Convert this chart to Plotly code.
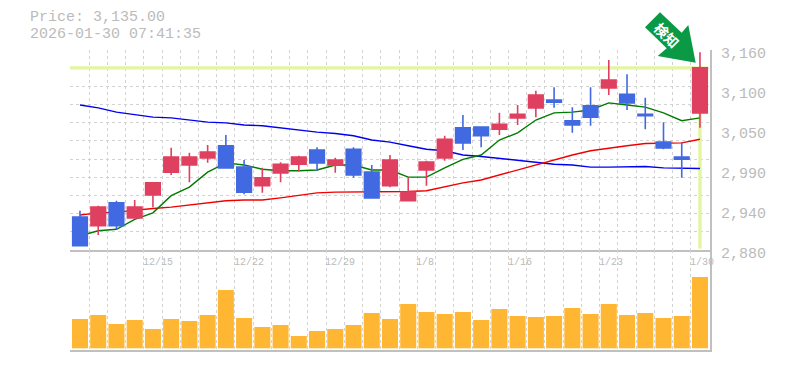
import plotly.graph_objects as go

dates_idx = [4, 9, 14, 19, 24, 29, 34]
date_labels = ["12/15", "12/22", "12/29", "1/8", "1/16", "1/23", "1/30"]

opens  = [2926,2914,2946,2925,2957,2989,2999,3009,3026,2996,2970,2988,3000,3020,2999,3021,2989,2970,2949,2992,3009,3051,3052,3049,3065,3079,3090,3061,3082,3107,3098,3070,3031,3010,3072]
highs  = [2935,2942,2949,2950,2975,3023,3016,3027,3041,3006,2995,3003,3012,3024,3009,3024,2999,3013,2981,3005,3040,3069,3052,3072,3083,3103,3108,3080,3108,3146,3126,3093,3059,3031,3157]
lows   = [2885,2901,2909,2925,2940,2985,2975,3002,2995,2958,2960,2975,2990,2991,2988,2981,2953,2968,2949,2970,3005,3020,3024,3041,3055,3066,3079,3044,3054,3097,3076,3049,3021,2981,3051]
closes = [2886,2940,2914,2940,2974,3010,3010,3017,2995,2961,2981,3000,3010,3002,3006,2985,2953,3006,2961,3003,3035,3030,3040,3056,3070,3097,3087,3055,3066,3118,3086,3068,3023,3007,3135]
ma_green = [2900,2907,2909,2923,2932,2956,2968,2989,3002,2999,2993,2991,2991,2992,2999,2999,2992,2992,2982,2982,2995,3007,3013,3034,3044,3062,3072,3073,3076,3086,3083,3080,3072,3061,3065]
ma_red   = [2929,2932,2933,2936,2938,2940,2943,2945,2949,2950,2950,2953,2956,2960,2961,2961,2961,2962,2962,2963,2969,2974,2978,2985,2992,3000,3006,3013,3019,3023,3026,3029,3029,3030,3035]
ma_blue  = [3083,3079,3073,3069,3066,3065,3062,3059,3058,3055,3054,3051,3047,3045,3043,3040,3034,3031,3026,3021,3019,3013,3011,3008,3005,3003,3000,2999,2996,2996,2997,2997,2995,2994,2994]
volumes  = [293,333,243,283,193,293,273,333,583,303,213,233,123,173,193,233,353,293,443,363,343,363,283,393,323,313,323,403,343,443,333,353,303,323,713]
price_ticks = [3160,3104,3048,2992,2936,2880]
price_labels = ["3,160","3,100","3,050","2,990","2,940","2,880"]
last_price = 3135

n = len(closes)
xs = list(range(n))
GRID = "#d2d2d2"
AX = "#c0c0c0"
TXT = "#bbbbbb"
MONO = "Liberation Mono"
DASH = "3px,3px"
PMIN, PMAX = 2880, 3160
XR = [-0.548, 34.55]

W, H = 785, 370
L, R, T, B = 70, 75, 50, 20
pw, ph = W - L - R, H - T - B
def px(x): return (x - L) / pw
def py(y): return 1 - (y - T) / ph

fig = go.Figure()
fig.add_trace(go.Scatter(x=[XR[0], XR[1] - 0.1, None, n - 1, n - 1], y=[last_price, last_price, None, last_price, PMIN + 2],
                         mode="lines", line=dict(color="#e2f5a0", width=3.4), hoverinfo="skip", showlegend=False))
fig.add_trace(go.Scatter(x=xs, y=ma_blue, mode="lines", line=dict(color="#0000f0", width=1.4), showlegend=False))
fig.add_trace(go.Scatter(x=xs, y=ma_red, mode="lines", line=dict(color="#f00000", width=1.4), showlegend=False))
fig.add_trace(go.Scatter(x=xs, y=ma_green, mode="lines", line=dict(color="#007a00", width=1.4), showlegend=False))
fig.add_trace(go.Candlestick(x=xs, open=opens, high=highs, low=lows, close=closes, whiskerwidth=0,
                             xaxis="x3", yaxis="y3",
                             increasing=dict(line=dict(color="#e0405f", width=1.6), fillcolor="#e0405f"),
                             decreasing=dict(line=dict(color="#4169e1", width=1.6), fillcolor="#4169e1"),
                             showlegend=False))
fig.add_trace(go.Bar(x=xs, y=volumes, width=0.88, marker=dict(color="#ffb733", line=dict(width=0)),
                     xaxis="x2", yaxis="y2", showlegend=False))

annotations = []
for txt, yy in (("Price: 3,135.00", 18), ("2026-01-30 07:41:35", 35)):
    annotations.append(dict(text=txt, x=px(28), y=py(yy), xref="paper", yref="paper", xanchor="left", yanchor="middle",
                            showarrow=False, font=dict(family=MONO, size=15, color=TXT)))
for i, lab in zip(dates_idx, date_labels):
    annotations.append(dict(text=lab, x=i - 0.5, y=py(262), xref="x", yref="paper", xanchor="left", yanchor="middle",
                            showarrow=False, xshift=-3, font=dict(family=MONO, size=10, color=TXT)))
annotations.append(dict(text="<b>検知</b>", x=px(667), y=py(35), xref="paper", yref="paper", xanchor="center", yanchor="middle",
                        textangle=45, showarrow=False, font=dict(family="Noto Sans CJK JP", size=14, color="white")))

arrow = [(660, 12.3), (645, 27.3), (666.7, 48.3), (657.7, 56), (695.7, 62.7), (688.3, 25), (681.7, 32.7)]
path = "M " + " L ".join(f"{px(a):.5f},{py(b):.5f}" for a, b in arrow) + " Z"
shapes = [dict(type="path", path=path, xref="paper", yref="paper", fillcolor="#0a9a46", line=dict(width=0), layer="above")]

minor_x = [i - 0.5 for i in range(n + 1)]
minor_y = [PMIN + k * (PMAX - PMIN) / 11 for k in range(12)]
grid = dict(tickmode="array", showgrid=True, gridcolor=GRID, griddash=DASH, gridwidth=1, ticks="")

fig.update_layout(
    width=W, height=H, margin=dict(l=L, r=R, t=T, b=B, autoexpand=False), paper_bgcolor="white", plot_bgcolor="white",
    boxgap=0.2, boxgroupgap=0, bargap=0.12, showlegend=False, annotations=annotations, shapes=shapes,
    xaxis=dict(domain=[0, 1], range=XR, anchor="y", showticklabels=False, ticks="",
               showgrid=False, zeroline=False, showline=True, linecolor=AX, linewidth=2,
               minor=dict(tickvals=minor_x, **grid)),
    xaxis2=dict(domain=[0, 1], range=XR, anchor="y2", showticklabels=False, ticks="",
                showgrid=False, zeroline=False, showline=True, linecolor=AX, linewidth=2,
                minor=dict(tickvals=minor_x, **grid)),
    xaxis3=dict(domain=[0, 1], range=XR, anchor="y3", overlaying="x", visible=False, rangeslider=dict(visible=False)),
    yaxis=dict(domain=[1/3, 1], range=[PMIN, PMAX], anchor="x", side="right", tickmode="array", tickvals=price_ticks, ticktext=price_labels,
               ticks="", showgrid=False, zeroline=False, showline=True, linecolor=AX, linewidth=2, ticklabelstandoff=6, ticklabelshift=3,
               tickfont=dict(family=MONO, size=15, color=TXT),
               minor=dict(tickvals=minor_y, **grid)),
    yaxis2=dict(domain=[0, 1/3], range=[-17, 983], anchor="x2", side="right", showticklabels=False, ticks="", showgrid=False,
                zeroline=False, showline=True, linecolor=AX, linewidth=2),
    yaxis3=dict(domain=[1/3, 1], range=[PMIN, PMAX], anchor="x3", overlaying="y", visible=False),
)
fig.write_html("out.html", config={"displayModeBar": False},
               post_script="document.body.style.margin='0';document.body.style.overflow='hidden';")
